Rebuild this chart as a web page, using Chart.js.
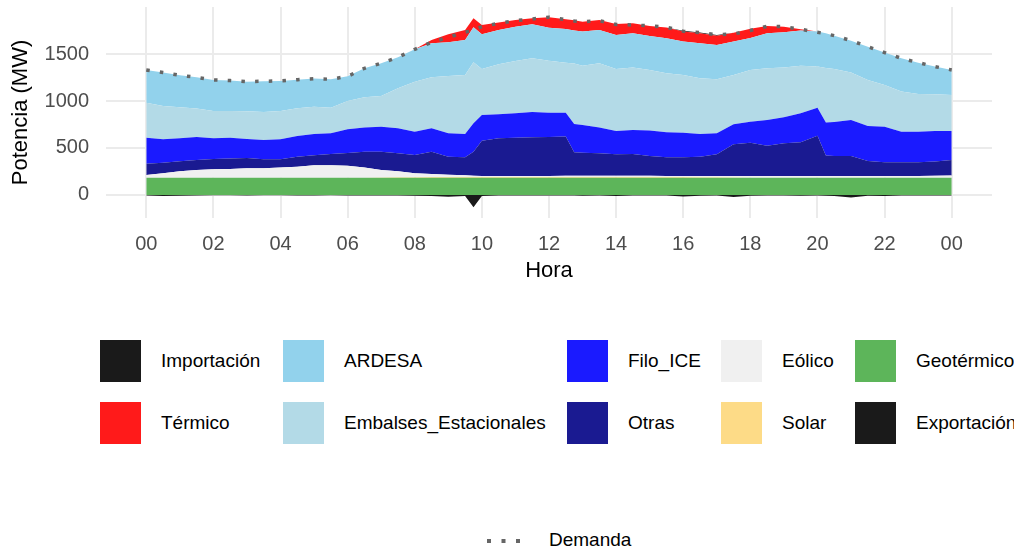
<!DOCTYPE html>
<html lang="es">
<head>
<meta charset="utf-8">
<title>Generación por fuente</title>
<script src="https://cdn.jsdelivr.net/npm/chart.js@4.4.1/dist/chart.umd.min.js"></script>
<style>
  body { margin: 0; background: #fff; font-family: 'Liberation Sans', Arial, sans-serif; }
  #wrap { position: relative; width: 1014px; height: 550px; overflow: hidden; }
  #grafico { position: absolute; left: 0; top: 0; }
  .clave { position: absolute; width: 41px; height: 42px; }
  .etiqueta { position: absolute; font-size: 19px; line-height: 22px; color: #000; white-space: nowrap; }
</style>
</head>
<body>
<div id="wrap">
  <canvas id="grafico" width="1014" height="290"></canvas>
  <div id="leyenda"></div>
  <svg style="position:absolute;left:480px;top:532px" width="50" height="18">
    <line x1="7" y1="9" x2="42" y2="9" stroke="#666666" stroke-width="4" stroke-dasharray="4 10.5"/>
  </svg>
  <div class="etiqueta" style="left:549px;top:529px">Demanda</div>
</div>
<script>
// Horas del día (incluye algunos cuartos de hora donde hay saltos)
const horas = [0,0.5,1,1.5,2,2.5,3,3.5,4,4.5,5,5.5,6,6.5,7,7.5,8,8.5,9,9.5,9.75,10,10.5,11,11.5,12,12.5,12.75,13,13.5,14,14.5,15,15.5,16,16.5,17,17.5,18,18.5,19,19.5,20,20.25,20.5,21,21.5,22,22.5,23,23.5,24];

// Potencia por fuente (MW)
const geotermico = [184,184,184,184,184,184,184,184,184,184,184,184,184,184,184,184,184,184,184,184,184,184,184,184,184,184,184,184,184,184,184,184,184,184,184,184,184,184,184,184,184,184,184,184,184,184,184,184,184,184,184,184];
const solar = [0,0,0,0,0,0,0,0,0,0,0,0,0,0,2,4,5,6,6,7,7,7,8,8,8,8,8,8,8,8,8,8,7,7,6,5,4,2,0,0,0,0,0,0,0,0,0,0,0,0,0,0];
const eolico = [29,46,68,82,89,93,100,100,107,117,132,132,126,107,80,64,41,33,26,18,14,11,10,10,10,11,13,13,13,13,13,13,14,12,13,14,14,16,18,18,18,18,18,18,18,18,18,18,18,18,20,22];
const otras = [120,114,106,106,110,110,110,96,89,107,106,120,137,170,195,191,196,238,192,192,256,376,401,408,412,415,416,249,245,238,228,231,210,198,198,205,231,338,353,323,348,358,429,217,213,213,160,146,146,146,151,166];
const filoICE = [277,248,245,245,220,223,202,205,212,220,227,220,253,256,266,266,248,248,248,248,302,273,255,259,269,258,255,302,295,274,248,256,270,266,262,241,223,212,225,273,276,309,298,351,362,383,372,379,326,326,326,309];
const embalses = [372,355,330,302,291,284,294,298,302,294,291,273,300,322,326,426,532,543,610,628,649,489,532,557,571,552,532,644,631,684,660,663,645,628,614,592,575,525,550,550,529,507,437,580,564,504,490,444,426,401,390,383];
const ardesa = [348,355,340,333,330,323,316,327,319,305,298,302,262,309,348,330,344,362,358,372,372,370,366,365,362,352,358,350,362,355,362,365,362,372,355,373,365,355,340,372,376,373,372,370,354,340,354,344,354,333,295,266];
const termico = [0,0,0,0,0,0,0,0,0,0,0,0,0,0,0,0,0,35,86,107,96,99,78,71,64,110,103,108,106,106,117,107,106,114,106,106,99,95,98,78,60,14,0,0,0,0,0,0,0,0,0,0];
const importacion = [0,0,0,0,0,0,0,0,0,0,0,0,0,0,0,0,0,0,0,0,0,0,0,0,0,0,0,0,0,0,0,0,0,0,8,10,6,0,0,0,0,0,0,0,0,0,0,0,0,0,0,0];
const exportacion = [-5,-12,-8,-5,-4,-4,-5,-4,-4,-5,-5,-4,-5,-6,-5,-6,-8,-10,-18,-10,-131,-10,-6,-5,-5,-5,-6,-6,-8,-6,-12,-6,-5,-5,-16,-8,-6,-22,-8,-6,-6,-8,-6,-8,-12,-28,-8,-10,-6,-6,-5,-5];
const demanda = [1330,1302,1273,1252,1224,1217,1206,1210,1213,1227,1238,1231,1262,1348,1401,1465,1550,1624,1678,1731,1755,1791,1827,1855,1873,1891,1865,1852,1844,1855,1813,1809,1800,1785,1742,1727,1705,1713,1750,1795,1791,1763,1731,1715,1695,1642,1578,1515,1454,1408,1366,1330];

const ticksHora = [0,2,4,6,8,10,12,14,16,18,20,22,24];
const ticksPotencia = [0,500,1000,1500];

// Series apiladas, de abajo hacia arriba
const series = [
  { nombre: 'Geotérmico', valores: geotermico, color: '#5DB55A' },
  { nombre: 'Solar', valores: solar, color: '#FDDB87' },
  { nombre: 'Eólico', valores: eolico, color: '#F0F0F0' },
  { nombre: 'Otras', valores: otras, color: '#1A1A91' },
  { nombre: 'Filo_ICE', valores: filoICE, color: '#1A1AFF' },
  { nombre: 'Embalses_Estacionales', valores: embalses, color: '#B3DAE7' },
  { nombre: 'ARDESA', valores: ardesa, color: '#92D2EC' },
  { nombre: 'Térmico', valores: termico, color: '#FF1A1A' },
  { nombre: 'Importación', valores: importacion, color: '#1A1A1A' },
  { nombre: 'Exportación', valores: exportacion, color: '#1A1A1A' }
];

const puntos = vals => horas.map((h, i) => ({ x: h, y: vals[i] }));

const datasets = [{
  label: 'Demanda',
  data: puntos(demanda),
  stack: 'demanda',
  borderColor: '#666666',
  borderWidth: 3.5,
  borderDash: [3.5, 10.2],
  borderCapStyle: 'butt',
  fill: false,
  pointRadius: 0
}];
series.forEach((s, i) => {
  datasets.push({
    label: s.nombre,
    data: puntos(s.valores),
    stack: 'fuentes',
    backgroundColor: s.color,
    borderColor: s.color,
    borderWidth: 0,
    pointRadius: 0,
    fill: (i === 0 || s.nombre === 'Exportación') ? 'origin' : '-1'
  });
});

Chart.defaults.font.family = "'Liberation Sans', Arial, sans-serif";

// sin relleno extra de las etiquetas: el área del gráfico queda donde se pide
const sinRelleno = s => { s.paddingTop = 0; s.paddingBottom = 0; s.paddingLeft = 0; s.paddingRight = 0; };

new Chart(document.getElementById('grafico').getContext('2d'), {
  type: 'line',
  data: { datasets: datasets },
  options: {
    responsive: false,
    animation: false,
    layout: { padding: { top: 7, right: 22, left: 0, bottom: 0 } },
    plugins: { legend: { display: false }, tooltip: { enabled: false } },
    scales: {
      x: {
        type: 'linear',
        min: -1.2,
        max: 25.2,
        afterBuildTicks: s => { s.ticks = ticksHora.map(v => ({ value: v })); },
        afterFit: s => { s.height = 72; sinRelleno(s); },
        grid: { color: '#EBEBEB', lineWidth: 2, drawTicks: false },
        border: { display: false },
        ticks: {
          padding: 14,
          color: '#4D4D4D',
          font: { size: 20 },
          callback: v => String(v % 24).padStart(2, '0')
        },
        title: { display: true, text: 'Hora', color: '#000', font: { size: 22 }, padding: { top: 0, bottom: 6 } }
      },
      y: {
        stacked: true,
        min: -245,
        max: 2000,
        afterBuildTicks: s => { s.ticks = ticksPotencia.map(v => ({ value: v })); },
        afterFit: s => { s.width = 106; sinRelleno(s); },
        grid: { color: '#EBEBEB', lineWidth: 2, drawTicks: false },
        border: { display: false },
        ticks: { padding: 17, color: '#4D4D4D', font: { size: 20 }, callback: v => String(v) },
        title: { display: true, text: 'Potencia (MW)', color: '#000', font: { size: 22 }, padding: { top: 8, bottom: 0 } }
      }
    }
  }
});

// Leyenda en dos filas, ordenada por columnas como la original
const ordenLeyenda = ['Importación', 'Térmico', 'ARDESA', 'Embalses_Estacionales', 'Filo_ICE', 'Otras', 'Eólico', 'Solar', 'Geotérmico', 'Exportación'];
const columnasX = [100, 283, 567, 721, 855];
const filasY = [340, 402];
const leyenda = document.getElementById('leyenda');
ordenLeyenda.forEach((nombre, i) => {
  const s = series.find(d => d.nombre === nombre);
  const x = columnasX[Math.floor(i / 2)];
  const y = filasY[i % 2];
  const clave = document.createElement('div');
  clave.className = 'clave';
  clave.style.left = x + 'px';
  clave.style.top = y + 'px';
  clave.style.background = s.color;
  leyenda.appendChild(clave);
  const et = document.createElement('div');
  et.className = 'etiqueta';
  et.style.left = (x + 61) + 'px';
  et.style.top = (y + 10) + 'px';
  et.textContent = nombre;
  leyenda.appendChild(et);
});
</script>
</body>
</html>
